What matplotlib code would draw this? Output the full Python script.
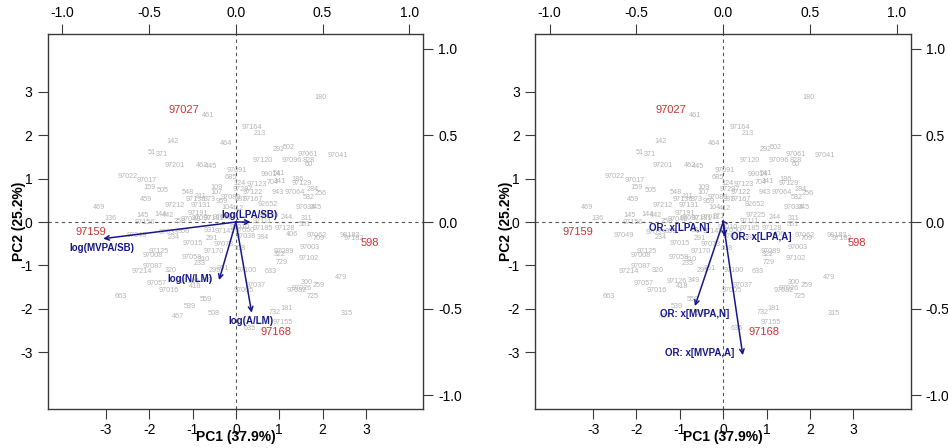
import matplotlib
matplotlib.use("Agg")
import matplotlib.pyplot as plt

plt.rcParams['font.family'] = ['Liberation Sans', 'DejaVu Sans']
plt.rcParams['axes.unicode_minus'] = False

# ---- data: observation scores (PC1, PC2) ----
ids = ["180", "97027", "461", "97164", "213", "142", "464", "292", "502", "51",
       "371", "97061", "97041", "97120", "97096", "828", "60", "97201", "462", "445",
       "97091", "99014", "541", "97022", "97017", "685", "704", "341", "186", "97129",
       "124", "97123", "159", "505", "109", "107", "548", "211", "97297", "97122",
       "943", "97064", "284", "256", "532", "459", "97138", "373", "959", "97080",
       "387", "97167", "92652", "97034", "345", "469", "97212", "97131", "104", "412",
       "145", "144", "442", "97191", "136", "97156", "258", "97048", "97097", "97181",
       "97011", "871", "97225", "244", "311", "551", "97111", "97128", "97185", "406",
       "97062", "709", "98183", "97182", "598", "97159", "97049", "97033", "856", "234",
       "931", "97145", "97010", "97038", "384", "97050", "291", "97015", "97073", "308",
       "97003", "97089", "322", "97125", "97008", "97170", "97058", "310", "233", "729",
       "97102", "97087", "320", "97214", "295", "361", "97100", "633", "479", "97126",
       "349", "418", "97057", "97016", "300", "259", "97037", "97005", "97026", "97082",
       "725", "663", "559", "539", "508", "467", "732", "181", "315", "97155",
       "635", "97168"]
pc1 = [1.96, -1.20, -0.64, 0.38, 0.56, -1.45, -0.22, 0.98, 1.21, -1.93,
       -1.70, 1.67, 2.34, 0.61, 1.28, 1.68, 1.68, -1.40, -0.77, -0.58,
       0.03, 0.80, 0.99, -2.50, -2.05, -0.12, 0.86, 1.02, 1.43, 1.52,
       0.09, 0.48, -2.00, -1.68, -0.45, -0.45, -1.10, -0.82, 0.15, 0.40,
       0.96, 1.35, 1.78, 1.95, 1.69, -2.07, -0.92, -0.60, -0.33, -0.12,
       0.12, 0.40, 0.73, 1.62, 1.85, -3.15, -1.40, -0.80, -0.20, 0.05,
       -2.15, -1.74, -1.56, -0.88, -2.89, -2.09, -1.30, -1.05, -0.78, -0.50,
       -0.30, -0.10, 0.75, 1.18, 1.63, 1.60, 0.60, 1.12, 0.62, 1.29,
       1.87, 1.92, 2.62, 2.73, 3.08, -3.35, -2.29, -1.55, -1.20, -1.44,
       -0.60, -0.25, 0.10, 0.22, 0.62, 0.20, -0.55, -1.00, -0.29, 0.08,
       1.71, 1.10, 1.02, -1.77, -1.91, -0.52, -1.02, -0.75, -0.83, 1.05,
       1.67, -1.91, -1.50, -2.18, -0.48, -0.30, 0.25, 0.80, 2.43, -1.06,
       -0.68, -0.95, -1.83, -1.54, 1.63, 1.92, 0.46, 0.19, 1.52, 1.40,
       1.76, -2.65, -0.70, -1.06, -0.52, -1.34, 0.90, 1.17, 2.55, 1.09,
       0.32, 0.93]
pc2 = [2.88, 2.58, 2.46, 2.17, 2.05, 1.86, 1.82, 1.68, 1.73, 1.61,
       1.55, 1.55, 1.54, 1.42, 1.41, 1.43, 1.32, 1.31, 1.30, 1.27,
       1.19, 1.10, 1.12, 1.06, 0.96, 1.03, 0.92, 0.93, 0.97, 0.89,
       0.89, 0.87, 0.80, 0.73, 0.80, 0.69, 0.67, 0.59, 0.75, 0.69,
       0.67, 0.68, 0.74, 0.65, 0.57, 0.52, 0.51, 0.51, 0.48, 0.57,
       0.52, 0.51, 0.40, 0.34, 0.34, 0.34, 0.37, 0.37, 0.34, 0.32,
       0.16, 0.17, 0.16, 0.20, 0.08, -0.02, 0.02, 0.05, 0.07, 0.09,
       0.10, 0.12, 0.15, 0.11, 0.09, -0.05, 0.02, -0.15, -0.15, -0.28,
       -0.30, -0.38, -0.31, -0.37, -0.49, -0.23, -0.31, -0.24, -0.23, -0.35,
       -0.20, -0.21, -0.12, -0.33, -0.35, -0.20, -0.38, -0.49, -0.53, -0.60,
       -0.58, -0.68, -0.74, -0.68, -0.77, -0.69, -0.82, -0.86, -0.95, -0.93,
       -0.85, -1.02, -1.11, -1.15, -1.12, -1.08, -1.11, -1.15, -1.27, -1.38,
       -1.34, -1.48, -1.42, -1.57, -1.39, -1.46, -1.47, -1.58, -1.54, -1.59,
       -1.71, -1.71, -1.78, -1.94, -2.11, -2.19, -2.08, -1.99, -2.12, -2.31,
       -2.45, -2.54]
highlight = ["97027", "97159", "598", "97168"]

# ---- variable loadings (top/right axis units) ----
vars_left = ["log(LPA/SB)", "log(MVPA/SB)", "log(N/LM)", "log(A/LM)"]
load1_left = [0.085, -0.765, -0.097, 0.091]
load2_left = [0.000, -0.096, -0.335, -0.523]

vars_right = ["OR: x[LPA,N]", "OR: x[LPA,A]", "OR: x[MVPA,N]", "OR: x[MVPA,A]"]
load1_right = [-0.010, 0.010, -0.163, 0.113]
load2_right = [0.012, -0.085, -0.485, -0.768]

x_label = "PC1 (37.9%)"
y_label = "PC2 (25.2%)"
load_ticks = [-1.0, -0.5, 0.0, 0.5, 1.0]
score_ticks = [-3, -2, -1, 0, 1, 2, 3]

# ---- style / layout ----
SCALE = 4.0
GRAY = '#b4b4b4'
RED = '#cd3333'
NAVY = '#16168a'
# label positions for arrow texts (score units), layout only
lab_pos_left = [(0.32, 0.17), (-3.08, -0.59), (-1.06, -1.32), (0.34, -2.28)]
lab_pos_right = [(-1.01, -0.13), (0.88, -0.34), (-0.66, -2.13), (-0.55, -3.03)]

fig = plt.figure(figsize=(9.48, 4.48), dpi=100)
W, H = 948.0, 448.0


def panel(left_px, names, l1, l2, labpos):
    ax = fig.add_axes([left_px / W, (H - 409.3) / H, 375.5 / W, 375.0 / H])
    ax.set_xlim(-4.34, 4.32)
    ax.set_ylim(-4.32, 4.33)
    for s in ax.spines.values():
        s.set_color('#3a3a3a')
        s.set_linewidth(1.0)
    ax.axhline(0, color='#555555', lw=0.8, ls=(0, (3, 3)), zorder=1)
    ax.axvline(0, color='#555555', lw=0.8, ls=(0, (3, 3)), zorder=1)
    for name, x, y in zip(ids, pc1, pc2):
        if name in highlight:
            ax.text(x, y, name, color=RED, fontsize=8, ha='center', va='center', zorder=3)
        else:
            ax.text(x, y, name, color=GRAY, fontsize=5.2, ha='center', va='center', zorder=2)
    for name, a, b, (tx, ty) in zip(names, l1, l2, labpos):
        ax.annotate('', xy=(a * SCALE, b * SCALE), xytext=(0, 0),
                    arrowprops=dict(arrowstyle='->', color=NAVY, lw=1.1,
                                    mutation_scale=8, shrinkA=0, shrinkB=0),
                    zorder=4)
        ax.text(tx, ty, name, color=NAVY, fontsize=7, fontweight='bold',
                ha='center', va='center', zorder=5)
    ax.set_xticks(score_ticks)
    ax.set_yticks(score_ticks)
    ax.set_xticklabels([str(t) for t in score_ticks])
    ax.set_yticklabels([str(t) for t in score_ticks])
    ax.tick_params(axis='both', length=7, width=0.8, labelsize=10, pad=3,
                   color='#3a3a3a')
    ax.tick_params(axis='y', pad=4)
    top = ax.secondary_xaxis('top', functions=(lambda s: s / SCALE, lambda l: l * SCALE))
    right = ax.secondary_yaxis('right', functions=(lambda s: s / SCALE, lambda l: l * SCALE))
    top.set_xticks(load_ticks)
    top.set_xticklabels(['%.1f' % t for t in load_ticks])
    right.set_yticks(load_ticks)
    right.set_yticklabels(['%.1f' % t for t in load_ticks])
    top.tick_params(length=7, width=0.8, labelsize=10, pad=3, color='#3a3a3a')
    right.tick_params(length=7, width=0.8, labelsize=10, pad=4, color='#3a3a3a')
    for s in list(top.spines.values()) + list(right.spines.values()):
        s.set_visible(False)
    ax.text(0.5, -28.0 / 375, x_label, transform=ax.transAxes, ha='center', va='center',
            fontsize=10, fontweight='bold')
    ax.text(-29.0 / 375, 0.5, y_label, transform=ax.transAxes, ha='center', va='center',
            fontsize=10, fontweight='bold', rotation=90)
    return ax


panel(47.7, vars_left, load1_left, load2_left, lab_pos_left)
panel(535.0, vars_right, load1_right, load2_right, lab_pos_right)

fig.savefig('out.png', dpi=100)
